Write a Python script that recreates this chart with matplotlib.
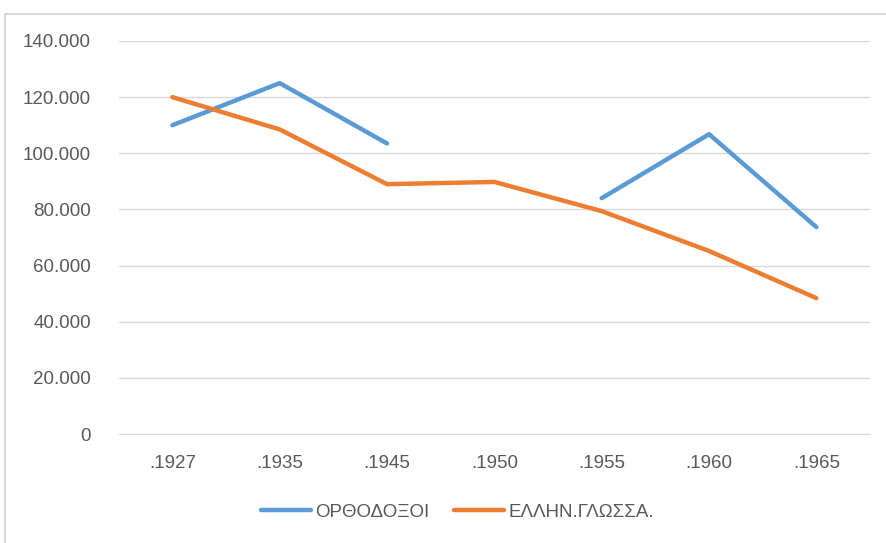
import matplotlib.pyplot as plt
import matplotlib.patches as patches
from matplotlib.ticker import FuncFormatter
import numpy as np

years = ['.1927', '.1935', '.1945', '.1950', '.1955', '.1960', '.1965']
orthodox = [110000, 125000, 103500, np.nan, 84000, 106800, 73700]
greek_lang = [120000, 108500, 89000, 89800, 79400, 65200, 48400]

plt.rcParams['font.family'] = ['Liberation Sans Narrow', 'Liberation Sans', 'DejaVu Sans']

fig = plt.figure(figsize=(8.86, 5.43), dpi=100)
ax = fig.add_axes([0.134, 0.2007, 0.848, 0.7238])

# chart frame (top and left edges visible)
fig.patches.append(patches.Rectangle((5 / 886, -0.1), 1.2, 1 - 14 / 543 + 0.1,
                                     transform=fig.transFigure, fill=False,
                                     edgecolor='#d9d9d9', linewidth=1.5))

x = np.arange(len(years))
ax.plot(x, orthodox, color='#5b9bd5', linewidth=3.2, label='ΟΡΘΟΔΟΞΟΙ', solid_capstyle='round')
ax.plot(x, greek_lang, color='#ed7d31', linewidth=3.2, label='ΕΛΛΗΝ.ΓΛΩΣΣΑ.', solid_capstyle='round')

ax.set_xlim(-0.5, len(years) - 0.5)
ax.set_ylim(0, 140000)
ax.set_yticks(np.arange(0, 140001, 20000))
ax.yaxis.set_major_formatter(FuncFormatter(lambda v, p: '0' if v == 0 else f'{int(v):,}'.replace(',', '.')))
ax.set_xticks(x)
ax.set_xticklabels(years)

ax.grid(axis='y', color='#d9d9d9', linewidth=1)
ax.set_axisbelow(True)
for s in ['top', 'right', 'left']:
    ax.spines[s].set_visible(False)
ax.spines['bottom'].set_color('#d9d9d9')
ax.tick_params(length=0, labelsize=13.5, colors='#595959')
ax.tick_params(axis='x', pad=15)
ax.tick_params(axis='y', pad=20)

fig.legend(loc='center', bbox_to_anchor=(0.516, 1 - 512 / 543), ncol=2, frameon=False,
           fontsize=13.5, labelcolor='#595959', handlelength=2.7, handletextpad=0.2,
           columnspacing=1.3)

fig.savefig('out.png', dpi=100)
